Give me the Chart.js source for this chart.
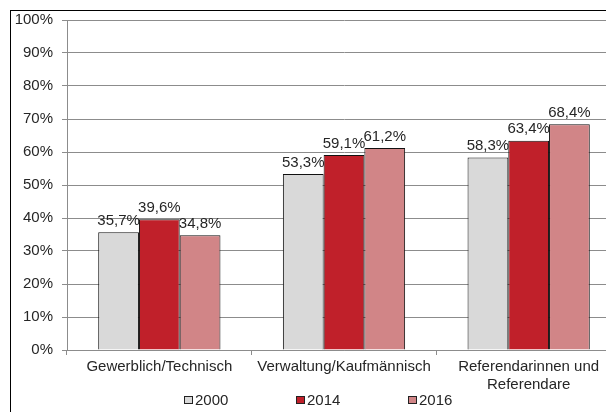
<!DOCTYPE html>
<html lang="de">
<head>
<meta charset="UTF-8">
<title>Anteil nach Laufbahn</title>
<script src="https://cdn.jsdelivr.net/npm/chart.js"></script>
<style>
  html, body { margin: 0; padding: 0; overflow: hidden; background: #fff; }
  #frame { position: absolute; left: 10px; top: 10px; width: 620px; height: 420px; border: 1px solid #000; overflow: hidden; }
  #wrap { position: absolute; left: 0; top: -9px; width: 610px; height: 409px; }
</style>
</head>
<body>
<div id="frame"><div id="wrap"><canvas id="chart"></canvas></div></div>
<script>
const categories = [
  'Gewerblich/Technisch',
  'Verwaltung/Kaufmännisch',
  ['Referendarinnen und', 'Referendare']
];
const seriesNames = ['2000', '2014', '2016'];
const values2000 = [35.7, 53.3, 58.3];
const values2014 = [39.6, 59.1, 63.4];
const values2016 = [34.8, 61.2, 68.4];
const yTicks = [0, 10, 20, 30, 40, 50, 60, 70, 80, 90, 100];
const colors = ['#d9d9d9', '#c0202a', '#d18587'];

const fontFamily = '"Liberation Sans", Arial, sans-serif';
const fontSize = 15;
const textColor = '#262626';

// value labels above bars, German decimal comma
const valueLabels = {
  id: 'valueLabels',
  afterDatasetsDraw(chart) {
    const ctx = chart.ctx;
    ctx.save();
    ctx.font = fontSize + 'px ' + fontFamily;
    ctx.fillStyle = textColor;
    ctx.textAlign = 'center';
    ctx.textBaseline = 'bottom';
    chart.data.datasets.forEach((ds, i) => {
      chart.getDatasetMeta(i).data.forEach((bar, j) => {
        const txt = ds.data[j].toFixed(1).replace('.', ',') + '%';
        ctx.fillText(txt, bar.x, bar.y - 4);
      });
    });
    ctx.restore();
  }
};

// legend drawn below the axis labels, spread out like the original
const spreadLegend = {
  id: 'spreadLegend',
  afterDraw(chart) {
    const ctx = chart.ctx;
    ctx.save();
    ctx.font = fontSize + 'px ' + fontFamily;
    ctx.textBaseline = 'middle';
    const y = chart.chartArea.bottom + 50;
    const step = 112;
    let x = 173;
    chart.data.datasets.forEach(ds => {
      ctx.fillStyle = ds.backgroundColor;
      ctx.fillRect(x, y - 4, 9, 8);
      ctx.strokeStyle = '#222';
      ctx.lineWidth = 1;
      ctx.strokeRect(x + 0.5, y - 3.5, 8, 7);
      ctx.fillStyle = textColor;
      ctx.fillText(ds.label, x + 11, y + 1);
      x += step;
    });
    ctx.restore();
  }
};

new Chart(document.getElementById('chart'), {
  type: 'bar',
  data: {
    labels: categories,
    datasets: seriesNames.map((name, i) => ({
      label: name,
      data: [values2000, values2014, values2016][i],
      backgroundColor: colors[i],
      borderColor: '#111',
      borderWidth: 1,
      categoryPercentage: 0.662,
      barPercentage: 1.0
    }))
  },
  options: {
    responsive: true,
    maintainAspectRatio: false,
    animation: false,
    layout: { padding: 0 },
    plugins: {
      legend: { display: false },
      tooltip: { enabled: false }
    },
    scales: {
      x: {
        grid: { display: true, drawOnChartArea: false, color: '#8c8c8c', tickLength: 5, offset: true },
        border: { color: '#8c8c8c' },
        ticks: { color: textColor, font: { family: fontFamily, size: fontSize }, padding: 3, maxRotation: 0, autoSkip: false },
        afterFit(scale) { scale.height = 61; }
      },
      y: {
        min: 0,
        max: 100,
        afterBuildTicks(scale) { scale.ticks = yTicks.map(v => ({ value: v })); },
        grid: { color: '#8c8c8c', tickLength: 5 },
        border: { color: '#8c8c8c' },
        ticks: {
          color: textColor,
          font: { family: fontFamily, size: fontSize },
          padding: 9,
          callback: v => v + '%'
        },
        afterFit(scale) { scale.width = 56; }
      }
    }
  },
  plugins: [valueLabels, spreadLegend]
});
</script>
</body>
</html>
